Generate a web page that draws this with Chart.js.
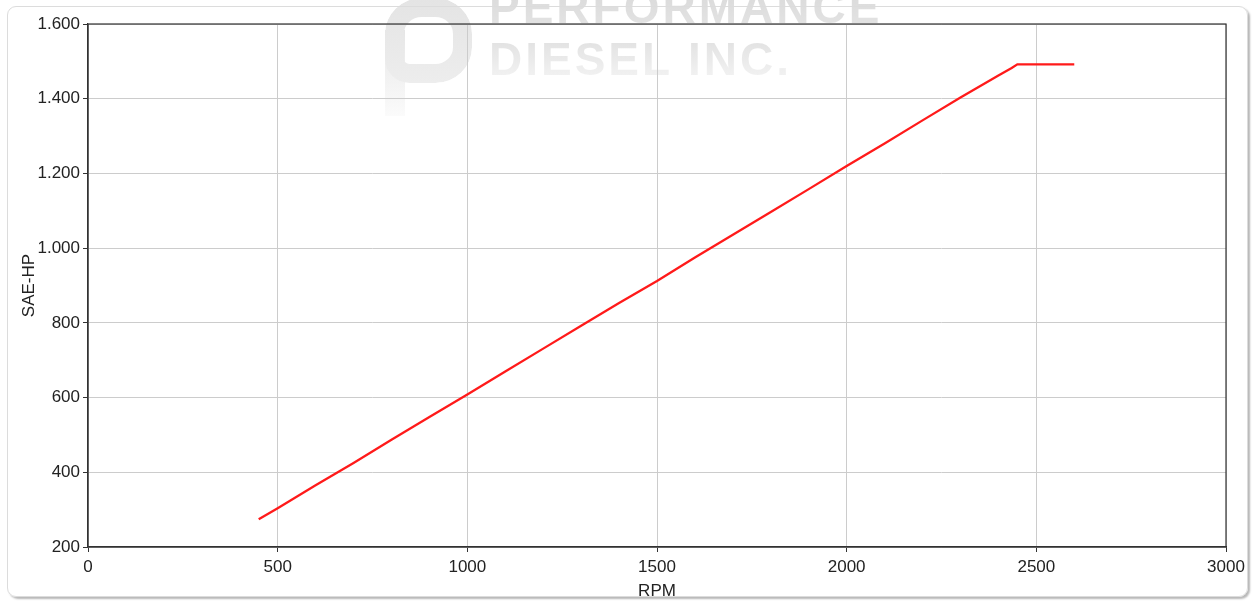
<!DOCTYPE html>
<html lang="de">
<head>
  <meta charset="UTF-8" />
  <title>SAE-HP / RPM</title>
  <script src="https://cdn.jsdelivr.net/npm/chart.js"></script>
  <style>
    html, body { margin: 0; padding: 0; background: #fff; }
    body { width: 1257px; height: 602px; position: relative; overflow: hidden; font-family: "Liberation Sans", Arial, sans-serif; }
    .frame {
      position: absolute; left: 7px; top: 6px; width: 1239px; height: 589px;
      border: 1px solid #dcdcdc; border-radius: 9px;
      box-shadow: 2px 2px 2px #b8b8b8;
    }
    .wm { position: absolute; color: transparent; font-weight: bold; font-family: "Liberation Sans", Arial, sans-serif;
          font-size: 46px; line-height: 46px; letter-spacing: 3px;
          -webkit-background-clip: text; background-clip: text; white-space: nowrap; }
    #wm1 { left: 489px; top: -16px; background-image: linear-gradient(#d8d8d8, #e4e4e4); }
    #wm2 { left: 489px; top: 36px; background-image: linear-gradient(#e0e0e0, #f4f4f4); }
    .ring { position: absolute; left: 385px; top: -2px; width: 49px; height: 47px;
            border: 19px solid transparent; border-radius: 42% 42% 42% 28%;
            background: linear-gradient(#e4e4e4, #ededed) border-box;
            -webkit-mask: linear-gradient(#000 0 0) padding-box exclude, linear-gradient(#000 0 0);
            mask: linear-gradient(#000 0 0) padding-box exclude, linear-gradient(#000 0 0); }
    .stem { position: absolute; left: 385px; top: 30px; width: 20px; height: 86px;
            background: linear-gradient(#e6e6e6, #fbfbfb); }
    #wrap { position: absolute; left: 0; top: 0; width: 1257px; height: 602px; }
  </style>
</head>
<body>
  <div class="stem"></div>
  <div class="ring"></div>
  <div class="wm" id="wm1">PERFORMANCE</div>
  <div class="wm" id="wm2">DIESEL INC.</div>
  <div class="frame"></div>
  <div id="wrap"><canvas id="chart" width="1257" height="602"></canvas></div>

<script>
  // values
  const rpm = [450, 500, 600, 700, 800, 900, 1000, 1100, 1200, 1300, 1400, 1500, 1600, 1700, 1800, 1900, 2000, 2100, 2200, 2300, 2400, 2435, 2450, 2500, 2600];
  const saeHp = [274, 304, 365, 425, 487, 548, 608, 670, 731, 792, 853, 912, 975, 1036, 1097, 1158, 1220, 1280, 1342, 1403, 1462, 1482, 1492, 1492, 1492];
  const xTicks = [0, 500, 1000, 1500, 2000, 2500, 3000];
  const yTicks = [200, 400, 600, 800, 1000, 1200, 1400, 1600];

  const boxPlugin = {
    id: 'box',
    afterDraw(chart) {
      const a = chart.chartArea, c = chart.ctx;
      c.save();
      c.strokeStyle = '#333';
      c.lineWidth = 1.2;
      c.strokeRect(a.left, a.top, a.right - a.left, a.bottom - a.top);
      c.restore();
    }
  };

  const tickFont = { family: '"Liberation Sans", Arial, sans-serif', size: 17 };

  new Chart(document.getElementById('chart').getContext('2d'), {
    type: 'line',
    data: {
      datasets: [{
        data: rpm.map((r, i) => ({ x: r, y: saeHp[i] })),
        borderColor: '#ff1a1a',
        borderWidth: 2.3,
        pointRadius: 0,
        fill: false,
        tension: 0
      }]
    },
    options: {
      responsive: false,
      animation: false,
      layout: { padding: { left: 19, right: 31, top: 24, bottom: 0 } },
      plugins: { legend: { display: false }, tooltip: { enabled: false } },
      scales: {
        x: {
          type: 'linear', min: 0, max: 3000,
          afterBuildTicks: s => { s.ticks = xTicks.map(v => ({ value: v })); },
          afterFit: s => { s.height = 55; },
          grid: { color: '#cccccc', tickLength: 5, tickColor: '#333' },
          border: { color: '#333', width: 1.2 },
          ticks: { color: '#222', font: tickFont, padding: 5, maxRotation: 0, callback: v => String(v) },
          title: { display: true, text: 'RPM', color: '#222', font: tickFont, padding: { top: 0, bottom: 0 } }
        },
        y: {
          min: 200, max: 1600,
          afterBuildTicks: s => { s.ticks = yTicks.map(v => ({ value: v })); },
          afterFit: s => { s.width = 69; },
          grid: { color: '#cccccc', tickLength: 5, tickColor: '#333' },
          border: { color: '#333', width: 1.2 },
          ticks: { color: '#222', font: tickFont, padding: 3, callback: v => v.toLocaleString('de-DE') },
          title: { display: true, text: 'SAE-HP', color: '#222', font: tickFont, padding: { top: 0, bottom: 0 } }
        }
      }
    },
    plugins: [boxPlugin]
  });
</script>
</body>
</html>
